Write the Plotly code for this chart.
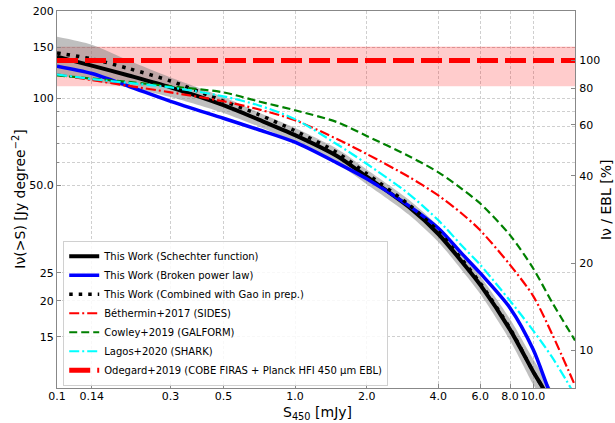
import plotly.graph_objects as go
import math

# ---- data ----
s_black = [0.1, 0.14, 0.2, 0.3, 0.5, 0.7, 1.0, 1.5, 2.0, 3.0, 4.0, 5.0, 6.0, 8.0, 10.0, 11.0, 12.0]
schechter = [139, 129.6, 119.8, 109, 94.6, 84.5, 74.6, 63.2, 53.6, 42.2, 34.0, 27.4, 22.7, 15.9, 11.4, 10.0, 8.7]
schechter_hi = [163, 153, 135, 118, 101, 89.5, 79, 67, 56.8, 44.7, 36.1, 29.2, 24.3, 17.3, 12.6, 11.1, 9.8]
schechter_lo = [120, 115, 109, 101, 89, 80, 70.5, 59.5, 50.5, 39.7, 31.9, 25.6, 21.1, 14.6, 10.3, 9.0, 7.9]

s_blue = [0.1, 0.14, 0.2, 0.3, 0.5, 0.7, 1.0, 1.5, 2.0, 3.0, 4.0, 5.0, 6.0, 8.0, 10.0, 11.56, 12.5]
broken_pl = [129, 121.7, 110, 97.6, 85.3, 78.0, 70.5, 59.8, 52.7, 42.6, 35.6, 29.2, 24.9, 18.9, 13.6, 10.0, 8.6]

s_comb = [0.1, 0.14, 0.2, 0.3, 0.5, 0.7, 1.0, 1.5, 2.0, 3.0, 4.0, 5.0, 6.0, 8.0, 10.0, 11.0, 12.0]
combined = [143.3, 136.7, 126.6, 114.7, 97.8, 88.0, 77.2, 65.0, 54.9, 43.0, 34.7, 27.9, 23.0, 16.05, 11.4, 10.0, 8.7]

s_model = [0.1, 0.14, 0.2, 0.3, 0.5, 0.7, 1.0, 1.5, 2.0, 3.0, 4.0, 5.0, 6.0, 8.0, 10.0, 12.0, 15.0]
bethermin = [120.8, 115.6, 110.3, 104.8, 97.6, 91.6, 84.0, 72.3, 64.2, 53.6, 46.2, 40.1, 35.0, 26.6, 20.8, 15.4, 10.2]
cowley = [119.8, 117, 113.8, 109.9, 104.8, 97.6, 90.9, 82.7, 74.1, 63.2, 55.5, 48.8, 43.3, 33.7, 25.9, 19.8, 14.6]

s_lagos = [0.1, 0.14, 0.2, 0.3, 0.5, 0.7, 1.0, 1.5, 2.0, 3.0, 4.0, 5.0, 6.0, 8.0, 10.0, 12.0, 14.4, 15.0]
lagos = [120.8, 116.5, 112.9, 109.0, 101.5, 94.6, 84.7, 69.4, 59.4, 46.8, 37.9, 31.1, 26.6, 20.0, 15.8, 12.8, 10.0, 9.4]

odegard_x = [0.1, 15.0]
odegard_ebl = 135.0
odegard_lo = 110.0
odegard_hi = 150.0

x_ticks = [0.1, 0.14, 0.3, 0.5, 1.0, 2.0, 4.0, 6.0, 8.0, 10.0]
x_ticktext = ["0.1", "0.14", "0.3", "0.5", "1.0", "2.0", "4.0", "6.0", "8.0", "10.0"]
y_ticks = [15, 20, 25, 50, 100, 150, 200]
y_ticktext = ["15", "20", "25", "50.0", "100", "150", "200"]
y_minor = [60, 70, 80, 90]
y2_ticks = [10, 20, 40, 60, 80, 100]

x_range = [0.1, 15.0]
y_range = [10.0, 200.0]

x_title = "S<sub>450</sub> [mJy]"
y_title = "Iν(>S) [Jy degree<sup>−2</sup>]"
y2_title = "Iν / EBL [%]"

FONT = "DejaVu Sans"
SPL = dict(shape="spline", smoothing=0.8)
fig = go.Figure()

# Odegard band
fig.add_trace(go.Scatter(x=odegard_x, y=[odegard_lo] * 2, mode="lines",
                         line=dict(width=0, color="rgba(255,0,0,0)"), showlegend=False, hoverinfo="skip"))
fig.add_trace(go.Scatter(x=odegard_x, y=[odegard_hi] * 2, mode="lines", fill="tonexty",
                         fillcolor="rgba(255,0,0,0.2)",
                         line=dict(width=1, color="rgba(255,0,0,0.25)"), showlegend=False, hoverinfo="skip"))

# Schechter uncertainty band
fig.add_trace(go.Scatter(x=s_black, y=schechter_lo, mode="lines",
                         line=dict(width=0, color="rgba(0,0,0,0)", **SPL), showlegend=False, hoverinfo="skip"))
fig.add_trace(go.Scatter(x=s_black, y=schechter_hi, mode="lines", fill="tonexty",
                         fillcolor="rgba(128,128,128,0.5)",
                         line=dict(width=0, color="rgba(0,0,0,0)", **SPL), showlegend=False, hoverinfo="skip"))

fig.add_trace(go.Scatter(x=s_black, y=schechter, mode="lines", name="This Work (Schechter function)",
                         line=dict(color="black", width=4, **SPL)))
fig.add_trace(go.Scatter(x=s_blue, y=broken_pl, mode="lines", name="This Work (Broken power law)",
                         line=dict(color="#0000ff", width=3.5, **SPL)))
fig.add_trace(go.Scatter(x=s_comb, y=combined, mode="lines", name="This Work (Combined with Gao in prep.)",
                         line=dict(color="black", width=3.5, dash="3.5px,6px", **SPL)))
fig.add_trace(go.Scatter(x=s_model, y=bethermin, mode="lines", name="Béthermin+2017 (SIDES)",
                         line=dict(color="#ff0000", width=2.2, dash="10px,3px,2px,3px", **SPL)))
fig.add_trace(go.Scatter(x=s_model, y=cowley, mode="lines", name="Cowley+2019 (GALFORM)",
                         line=dict(color="#008000", width=2.2, dash="8px,4px", **SPL)))
fig.add_trace(go.Scatter(x=s_lagos, y=lagos, mode="lines", name="Lagos+2020 (SHARK)",
                         line=dict(color="#00ffff", width=2.2, dash="10px,3px,2px,3px", **SPL)))
fig.add_trace(go.Scatter(x=odegard_x, y=[odegard_ebl] * 2, mode="lines",
                         name="Odegard+2019 (COBE FIRAS + Planck HFI 450 µm EBL)",
                         line=dict(color="#ff0000", width=5, dash="21px,7px")))

# invisible trace to carry the right-hand axis
fig.add_trace(go.Scatter(x=odegard_x, y=[100, 100], yaxis="y2", mode="lines",
                         line=dict(width=0, color="rgba(0,0,0,0)"), showlegend=False, hoverinfo="skip"))

axis_line = "#888888"
grid_col = "#cfcfcf"
GD = "3px,2px"

fig.update_layout(
    width=615, height=423,
    margin=dict(l=57, r=40, t=11, b=35),
    paper_bgcolor="white", plot_bgcolor="white",
    font=dict(family=FONT, size=11, color="black"),
    showlegend=True,
    legend=dict(x=0.012, y=0.006, xanchor="left", yanchor="bottom", traceorder="normal",
                bgcolor="rgba(255,255,255,0.85)", bordercolor="#d0d0d0", borderwidth=1,
                font=dict(family=FONT, size=10, color="black")),
    xaxis=dict(type="log", range=[math.log10(x_range[0]), math.log10(x_range[1])],
               tickvals=x_ticks, ticktext=x_ticktext, ticks="inside", ticklen=4,
               tickcolor=axis_line, showline=True, linecolor=axis_line, linewidth=1, mirror=True,
               showgrid=True, gridcolor=grid_col, griddash=GD, gridwidth=1,
               zeroline=False, automargin=False, ticklabelstandoff=-2,
               tickfont=dict(family=FONT, size=11)),
    yaxis=dict(type="log", range=[math.log10(y_range[0]), math.log10(y_range[1])],
               tickvals=y_ticks, ticktext=y_ticktext, ticks="inside", ticklen=4,
               tickcolor=axis_line, showline=True, linecolor=axis_line, linewidth=1,
               showgrid=True, gridcolor=grid_col, griddash=GD, gridwidth=1,
               minor=dict(tickvals=y_minor, ticks="inside", ticklen=2, tickcolor=axis_line,
                          showgrid=True, gridcolor=grid_col, griddash=GD),
               zeroline=False, automargin=False,
               tickfont=dict(family=FONT, size=11)),
    yaxis2=dict(type="log", overlaying="y", side="right",
                range=[math.log10(y_range[0] / odegard_ebl * 100), math.log10(y_range[1] / odegard_ebl * 100)],
                tickvals=y2_ticks, ticktext=[str(v) for v in y2_ticks], ticks="inside", ticklen=4,
                tickcolor=axis_line, showline=True, linecolor=axis_line, linewidth=1,
                showgrid=False, zeroline=False, automargin=False, ticklabelstandoff=1,
                tickfont=dict(family=FONT, size=11)),
    annotations=[
        dict(text=x_title, xref="paper", yref="paper", x=0.503, y=-0.066, xanchor="center", yanchor="middle",
             showarrow=False, font=dict(family=FONT, size=14, color="black")),
        dict(text=y_title, xref="paper", yref="paper", x=-0.075, y=0.5, xanchor="center", yanchor="middle",
             textangle=-90, showarrow=False, font=dict(family=FONT, size=14, color="black")),
        dict(text=y2_title, xref="paper", yref="paper", x=1.059, y=0.5, xanchor="center", yanchor="middle",
             textangle=-90, showarrow=False, font=dict(family=FONT, size=14, color="black")),
    ],
)

fig.write_html("out.html", config={"displayModeBar": False},
               post_script="document.body.style.margin='0';document.body.style.padding='0';")
